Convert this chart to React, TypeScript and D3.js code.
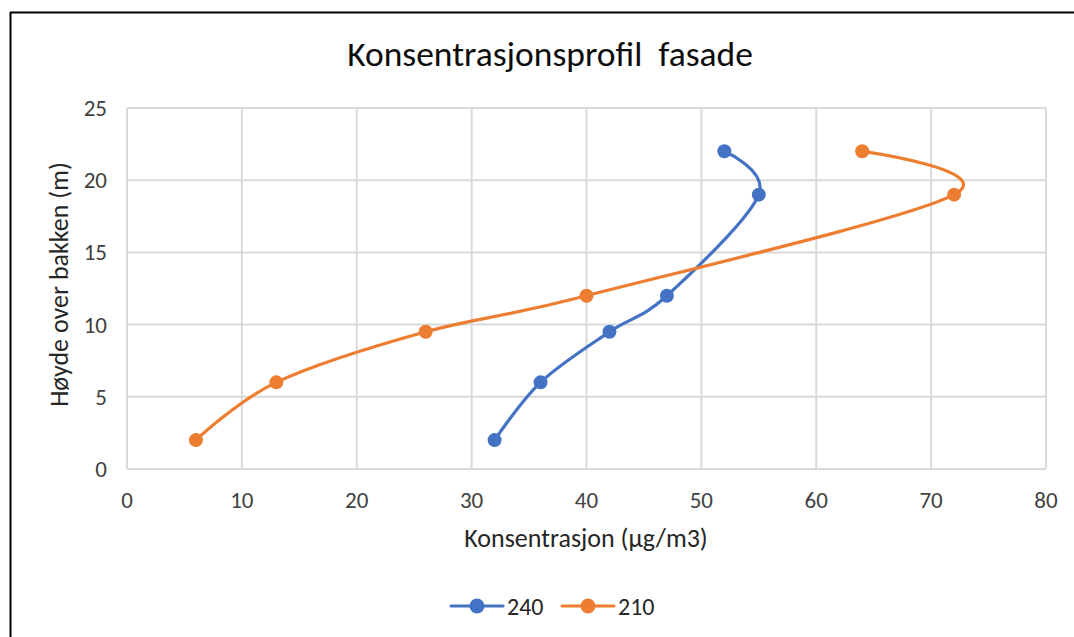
import React from 'react';
import * as d3 from 'd3';

// series values (x = konsentrasjon, y = høyde)
const conc240 = [32, 36, 42, 47, 55, 52];
const height240 = [2, 6, 9.5, 12, 19, 22];
const conc210 = [6, 13, 26, 40, 72, 64];
const height210 = [2, 6, 9.5, 12, 19, 22];
const seriesNames = ['240', '210'];
const xTicks = [0, 10, 20, 30, 40, 50, 60, 70, 80];
const yTicks = [0, 5, 10, 15, 20, 25];

const W = 1074;
const H = 637;
const margin = { top: 108, right: 28, bottom: 168, left: 127 };
const colors = ['#4472C4', '#ED7D31'];
const font = "Carlito, Calibri, Lato, 'Open Sans', sans-serif";

export default function App() {
  const x = d3.scaleLinear().domain([0, 80]).range([margin.left, W - margin.right]);
  const y = d3.scaleLinear().domain([0, 25]).range([H - margin.bottom, margin.top]);

  const series = [
    { name: seriesNames[0], pts: conc240.map((c, i) => [c, height240[i]] as [number, number]) },
    { name: seriesNames[1], pts: conc210.map((c, i) => [c, height210[i]] as [number, number]) },
  ];

  const line = d3.line<[number, number]>()
    .x(d => x(d[0]))
    .y(d => y(d[1]))
    .curve(d3.curveCardinal.tension(0));

  const legendX = [451, 562];

  return (
    <div style={{ position: 'fixed', left: 0, top: 0 }}>
      <svg width={W} height={H} style={{ display: 'block', background: '#fff' }}>
        {/* outer frame (left and top edges visible) */}
        <line x1={10.5} y1={12} x2={10.5} y2={H} stroke="#000" strokeWidth={2} />
        <line x1={10} y1={12.5} x2={W} y2={12.5} stroke="#000" strokeWidth={2} />

        <text x={550} y={66} textAnchor="middle" fontFamily={font} fontSize={35.5} fill="#0d0d0d" style={{ whiteSpace: 'pre' }}>
          {'Konsentrasjonsprofil  fasade'}
        </text>

        {/* grid */}
        {xTicks.map(t => (
          <line key={'gx' + t} x1={x(t)} x2={x(t)} y1={y(0)} y2={y(25)} stroke="#d9d9d9" strokeWidth={2} />
        ))}
        {yTicks.map(t => (
          <line key={'gy' + t} x1={x(0)} x2={x(80)} y1={y(t)} y2={y(t)} stroke="#d9d9d9" strokeWidth={2} />
        ))}

        {/* tick labels */}
        {xTicks.map(t => (
          <text key={'tx' + t} x={x(t)} y={508} textAnchor="middle" fontFamily={font} fontSize={23} fill="#404040">
            {t}
          </text>
        ))}
        {yTicks.map(t => (
          <text key={'ty' + t} x={107} y={y(t) + 8} textAnchor="end" fontFamily={font} fontSize={23} fill="#404040">
            {t}
          </text>
        ))}

        {/* axis titles */}
        <text x={586} y={547} textAnchor="middle" fontFamily={font} fontSize={26} fill="#262626">
          Konsentrasjon (µg/m3)
        </text>
        <text transform={`translate(68, ${y(12.5) - 4}) rotate(-90)`} textAnchor="middle" fontFamily={font} fontSize={26} fill="#262626">
          Høyde over bakken (m)
        </text>

        {/* series */}
        {series.map((s, i) => (
          <g key={s.name}>
            <path d={line(s.pts) ?? ''} fill="none" stroke={colors[i]} strokeWidth={3.2} strokeLinecap="round" />
            {s.pts.map((p, j) => (
              <circle key={j} cx={x(p[0])} cy={y(p[1])} r={7} fill={colors[i]} />
            ))}
          </g>
        ))}

        {/* legend */}
        {series.map((s, i) => (
          <g key={'lg' + s.name} transform={`translate(${legendX[i]}, 606)`}>
            <line x1={0} x2={52} y1={0} y2={0} stroke={colors[i]} strokeWidth={3.2} strokeLinecap="round" />
            <circle cx={26} cy={0} r={7.5} fill={colors[i]} />
            <text x={56} y={9} fontFamily={font} fontSize={24} fill="#262626">{s.name}</text>
          </g>
        ))}
      </svg>
    </div>
  );
}
